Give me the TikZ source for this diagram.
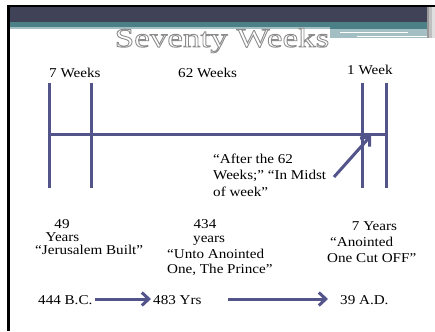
\documentclass[tikz,border=0pt]{standalone}
\usepackage{fontspec}
\setmainfont{Liberation Serif}[FakeStretch=1.12]
\newfontfamily\titlefont{Liberation Serif}[FakeStretch=1.3]
\usetikzlibrary{arrows.meta}
\definecolor{bandDark}{RGB}{64,66,88}
\definecolor{bandTeal}{RGB}{74,128,134}
\definecolor{bandLight}{RGB}{163,191,195}
\definecolor{lineBlue}{RGB}{82,84,138}
\tikzset{
  tl/.style={line width=3pt, draw=lineBlue},
  lbl/.style={inner sep=0pt, font=\fontsize{13.5}{15}\selectfont, text=black},
  arr/.style={line width=3pt, draw=lineBlue, -{Straight Barb[length=7pt,width=13pt,line width=3pt]}},
  ttl/.style={inner sep=0pt, anchor=base, font=\titlefont\fontsize{27}{29}\selectfont}
}
\newcommand{\outlinedtext}[1]{\special{pdf:literal direct 2 Tr 0.9 w 0.55 0.55 0.55 RG}#1\special{pdf:literal direct 0 Tr}}
\begin{document}
\begin{tikzpicture}[x=1pt,y=-1pt]
\useasboundingbox (0,0) rectangle (435,331);
\fill[white] (0,0) rectangle (435,331);
% header bands
\fill[bandDark] (7,6) rectangle (435,22);
\fill[bandTeal] (7,22) rectangle (435,27.5);
\fill[bandLight] (7,27.5) rectangle (435,29.5);
\fill[bandLight] (330,27.5) rectangle (435,38);
\fill[bandTeal] (330,22) rectangle (435,29.3);
\draw[white, line width=0.8pt] (340,32) -- (408,32);
\draw[white, line width=0.8pt] (357,36.7) -- (432,36.7);
\fill[gray!80] (427,7) rectangle (429,38);
\fill[gray!50] (429,7) rectangle (432,38);
\fill[gray!25] (432,7) rectangle (435,38);
% frame
\fill[black] (7,5.5) rectangle (435,7.3);
\fill[black] (7,5.5) rectangle (9.5,331);
% title
\node[ttl, text=white] (title) at (222,47) {\outlinedtext{Seventy Weeks}};
% timeline
\coordinate (a1) at (49,83); \coordinate (a2) at (49,188);
\coordinate (b1) at (91,83); \coordinate (b2) at (91,188);
\coordinate (c1) at (362,83); \coordinate (c2) at (362,188);
\coordinate (d1) at (386,83); \coordinate (d2) at (386,188);
\coordinate (h1) at (49,134); \coordinate (h2) at (386,134);
\draw[tl] (a1) -- (a2);
\draw[tl] (b1) -- (b2);
\draw[tl] (c1) -- (c2);
\draw[tl] (d1) -- (d2);
\draw[tl] (h1) -- (h2);
% top labels
\node[lbl, anchor=base west] (w7) at (49,78) {7 Weeks};
\node[lbl, anchor=base west] (w62) at (178,78) {62 Weeks};
\node[lbl, anchor=base west] (w1) at (347,75) {1 Week};
% quote
\node[lbl, anchor=base west] (q1) at (213,163) {“After the 62};
\node[lbl, anchor=base west] (q2) at (213,179.5) {Weeks;” “In Midst};
\node[lbl, anchor=base west] (q3) at (213,196) {of week”};
\coordinate (qa) at (334,177);
\coordinate (qb) at (371,135.5);
\draw[arr] (qa) -- (qb);
% bottom text
\node[lbl, anchor=base] (y49) at (62,228) {49};
\node[lbl, anchor=base] (y49b) at (62.5,241) {Years};
\node[lbl, anchor=base west] (y49c) at (35,254) {“Jerusalem Built”};
\node[lbl, anchor=base] (y434) at (205,228) {434};
\node[lbl, anchor=base west] (y434b) at (193,242) {years};
\node[lbl, anchor=base west] (y434c) at (167,258) {“Unto Anointed};
\node[lbl, anchor=base west] (y434d) at (167,273) {One, The Prince”};
\node[lbl, anchor=base] (y7) at (374.5,230) {7 Years};
\node[lbl, anchor=base west] (y7b) at (330,246.5) {“Anointed};
\node[lbl, anchor=base west] (y7c) at (327,262.5) {One Cut OFF”};
% bottom row
\node[lbl, anchor=base west] (bc) at (38,304) {444 B.C.};
\node[lbl, anchor=base west] (yrs) at (153,304) {483 Yrs};
\node[lbl, anchor=base west] (ad) at (340,304) {39 A.D.};
\coordinate (r1s) at (95,299); \coordinate (r1e) at (151,299);
\coordinate (r2s) at (228,299); \coordinate (r2e) at (328,299);
\draw[arr] (r1s) -- (r1e);
\draw[arr] (r2s) -- (r2e);
\end{tikzpicture}
\end{document}
